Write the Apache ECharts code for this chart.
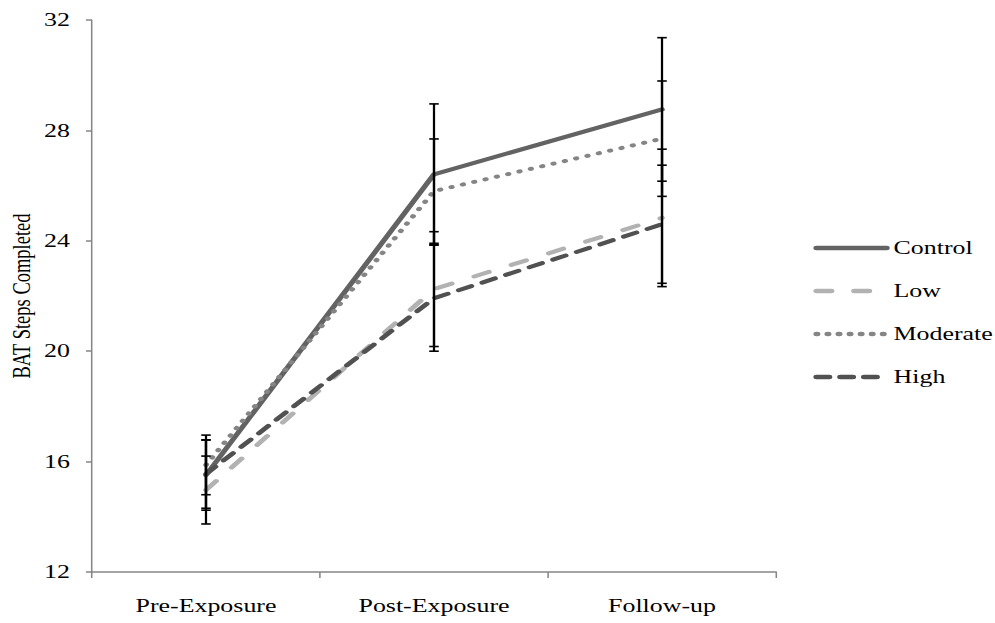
<!DOCTYPE html>
<html>
<head>
<meta charset="utf-8">
<script src="https://cdn.jsdelivr.net/npm/echarts@6/dist/echarts.min.js"></script>
<style>
  html, body { margin: 0; padding: 0; background: #fff; overflow: hidden; }
  /* the source figure is a horizontally stretched Times chart, so draw narrow and stretch */
  #chart { width: 712px; height: 623px; transform: scaleX(1.4); transform-origin: 0 0; }
</style>
</head>
<body>
<div id="chart"></div>
<script>
const categories = ['Pre-Exposure', 'Post-Exposure', 'Follow-up']

// group means
const controlVals = [15.51, 26.41, 28.76]
const lowVals = [14.97, 22.25, 24.83]
const moderateVals = [15.88, 25.8, 27.7]
const highVals = [15.55, 21.92, 24.6]

// half-width of the error bars
const controlErr = [1.27, 2.55, 2.6]
const lowErr = [1.23, 2.08, 2.49]
const moderateErr = [1.08, 1.89, 2.09]
const highErr = [1.24, 1.92, 2.14]

const groups = [
  { name: 'Control', vals: controlVals, err: controlErr, color: '#636363', type: 'solid', legendType: 'solid' },
  { name: 'Low', vals: lowVals, err: lowErr, color: '#b2b2b2', type: [11.5, 17.5], legendType: [10.5, 16.5] },
  { name: 'Moderate', vals: moderateVals, err: moderateErr, color: '#858585', type: [0.5, 8], legendType: [0.5, 7.4] },
  { name: 'High', vals: highVals, err: highErr, color: '#515151', type: [10, 8.5], legendType: [9, 8] }
]

const errData = []
groups.forEach(g => {
  g.vals.forEach((v, i) => errData.push([i, v - g.err[i], v + g.err[i]]))
})

const font = "'Liberation Serif', 'Times New Roman', serif"
const axisGray = '#868686'

const chart = echarts.init(document.getElementById('chart'), null, { renderer: 'svg' })

chart.setOption({
  animation: false,
  backgroundColor: '#fff',
  textStyle: { fontFamily: font },
  grid: { left: 65.7, right: 157.7, top: 20, bottom: 51, outerBoundsMode: 'none', containLabel: false },
  legend: {
    orient: 'vertical',
    left: 576,
    top: 232,
    itemWidth: 50,
    itemHeight: 22,
    itemGap: 21,
    textStyle: { fontFamily: font, fontSize: 18.5, color: '#000', lineHeight: 22 },
    data: groups.map(g => ({
      name: g.name,
      itemStyle: { opacity: 0 },
      lineStyle: { width: 4.5, type: g.legendType, cap: 'round', color: g.color, opacity: 1 }
    }))
  },
  xAxis: {
    type: 'category',
    data: categories,
    boundaryGap: true,
    axisLine: { lineStyle: { color: axisGray, width: 1.5 } },
    axisTick: { show: true, length: 6, lineStyle: { color: axisGray, width: 1.1 } },
    axisLabel: { color: '#000', fontFamily: font, fontSize: 18.5, margin: 24 },
    splitLine: { show: false }
  },
  yAxis: {
    type: 'value',
    min: 12,
    max: 32,
    interval: 4,
    name: 'BAT Steps Completed',
    nameLocation: 'middle',
    nameGap: 41,
    nameMoveOverlap: false,
    nameTextStyle: { color: '#000', fontFamily: font, fontSize: 18.5 },
    axisLine: { show: true, lineStyle: { color: axisGray, width: 1.1 } },
    axisTick: { show: true, length: 4.3, lineStyle: { color: axisGray, width: 1.5 } },
    axisLabel: { color: '#000', fontFamily: font, fontSize: 18.5, margin: 15.7 },
    splitLine: { show: false }
  },
  series: groups.map(g => ({
    name: g.name,
    type: 'line',
    data: g.vals,
    symbol: 'none',
    z: 2,
    lineStyle: { color: g.color, width: 4, type: g.type, cap: 'round', join: 'round' },
    itemStyle: { color: g.color }
  })).concat([{
    name: 'errors',
    type: 'custom',
    z: 5,
    data: errData,
    renderItem: function (params, api) {
      const x = api.value(0)
      const lo = api.coord([x, api.value(1)])
      const hi = api.coord([x, api.value(2)])
      const hw = 3.4
      const style = { stroke: '#000', lineWidth: 1.6 }
      return {
        type: 'group',
        children: [
          { type: 'line', shape: { x1: lo[0], y1: lo[1], x2: hi[0], y2: hi[1] }, style: style },
          { type: 'line', shape: { x1: hi[0] - hw, y1: hi[1], x2: hi[0] + hw, y2: hi[1] }, style: style },
          { type: 'line', shape: { x1: lo[0] - hw, y1: lo[1], x2: lo[0] + hw, y2: lo[1] }, style: style }
        ]
      }
    }
  }])
})
</script>
</body>
</html>
